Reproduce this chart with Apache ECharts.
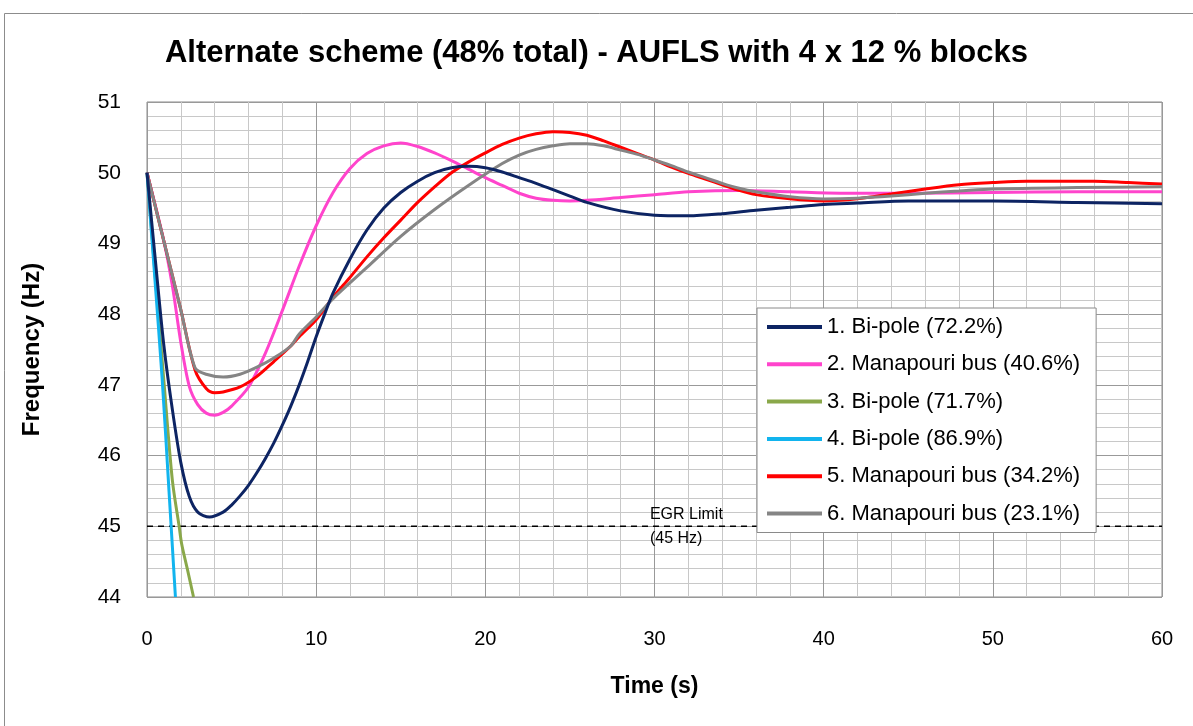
<!DOCTYPE html>
<html><head><meta charset="utf-8">
<script src="https://cdn.jsdelivr.net/npm/echarts@6/dist/echarts.min.js"></script>
<style>html,body{margin:0;padding:0;background:#fff}#c{width:1193px;height:726px}</style>
</head><body><div id="c"></div>
<script>
const titleText = 'Alternate scheme (48% total) - AUFLS with 4 x 12 % blocks';
const seriesNames = ['1. Bi-pole (72.2%)','2. Manapouri bus (40.6%)','3. Bi-pole (71.7%)','4. Bi-pole (86.9%)','5. Manapouri bus (34.2%)','6. Manapouri bus (23.1%)'];
const xTicks = [0,10,20,30,40,50,60];
const yTicks = [44,45,46,47,48,49,50,51];
const egrLimit = 45;

const s1 = [[0,50],[0.5,48.75],[1,47.55],[1.5,46.65],[2,45.9],[2.5,45.42],[3,45.2],[3.7,45.13],[4.5,45.2],[5,45.3],[5.5,45.43],[6,45.58],[6.5,45.76],[7,45.96],[7.5,46.18],[8,46.43],[8.5,46.7],[9,47.0],[9.5,47.33],[10,47.68],[10.5,48.0],[11,48.3],[12,48.78],[13,49.19],[14,49.5],[15,49.72],[16,49.88],[17,50.0],[18,50.07],[19,50.09],[20,50.07],[21,50.01],[22,49.93],[23,49.85],[24,49.76],[25,49.67],[26,49.58],[28,49.46],[30,49.4],[32,49.39],[34,49.42],[36,49.47],[38,49.51],[40,49.55],[42,49.57],[45,49.6],[50,49.6],[55,49.58],[60,49.56]];
const s2 = [[0,50],[1,49.03],[1.5,48.4],[2,47.6],[2.5,46.98],[3,46.72],[3.5,46.6],[4,46.57],[4.5,46.61],[5,46.7],[6,46.97],[7,47.45],[8,48.05],[9,48.68],[10,49.25],[11,49.72],[12,50.06],[13,50.27],[14,50.38],[15,50.42],[16,50.37],[17,50.28],[18,50.17],[19,50.05],[20,49.93],[21,49.82],[22,49.71],[23,49.64],[24,49.61],[25,49.6],[26,49.61],[28,49.65],[30,49.69],[32,49.73],[35,49.75],[38,49.73],[41,49.71],[45,49.71],[50,49.72],[55,49.73],[60,49.73]];
const s3 = [[0,50],[0.5,48.5],[1,47.05],[1.5,45.65],[1.9,45.0],[2.05,44.75],[2.4,44.38],[2.75,44.0]];
const s4 = [[0,50],[0.45,48.55],[0.9,47.07],[1.3,45.5],[1.68,44.0]];
const s5 = [[0,50],[1,49.03],[2,48.06],[2.84,47.21],[3.5,46.95],[4,46.89],[4.5,46.9],[5.5,46.97],[6.5,47.12],[7.5,47.33],[8.5,47.55],[9,47.68],[10,47.92],[11,48.24],[12,48.52],[13,48.81],[14,49.08],[15,49.33],[16,49.58],[17,49.8],[18,50.0],[19,50.15],[20,50.28],[21,50.4],[22,50.49],[23,50.55],[24,50.58],[25,50.57],[26,50.53],[27,50.45],[28,50.36],[29,50.27],[30,50.18],[31,50.08],[32,49.99],[33,49.91],[34,49.83],[35,49.75],[36,49.69],[38,49.63],[40,49.6],[42,49.63],[44,49.7],[46,49.77],[48,49.83],[50,49.86],[52,49.88],[54,49.88],[56,49.88],[58,49.86],[60,49.84]];
const s6 = [[0,50],[1,49.03],[2,48.06],[2.84,47.24],[3.5,47.15],[4.5,47.11],[5.5,47.15],[6.5,47.25],[7.5,47.38],[8.5,47.55],[9,47.72],[10,47.96],[11,48.22],[13,48.66],[15,49.1],[17,49.48],[19,49.82],[21,50.13],[22,50.25],[23,50.33],[24,50.38],[25,50.41],[26,50.41],[27,50.38],[28,50.32],[29,50.26],[30,50.18],[31,50.1],[32,50.01],[33,49.93],[34,49.85],[35,49.78],[36,49.73],[38,49.66],[40,49.63],[42,49.64],[44,49.67],[46,49.71],[48,49.74],[50,49.77],[55,49.79],[60,49.8]];
const egrLine = [[0,45],[60,45]];

const colors = ['#0d2463','#ff44cc','#8aa84a','#12b4ee','#ff0000','#858585'];
const dataSets = [s1,s2,s3,s4,s5,s6];

const chart = echarts.init(document.getElementById('c'));
const font = 'Liberation Sans, Arial, sans-serif';
const series = dataSets.map((d,i)=>({
  name: seriesNames[i], type:'line', data:d, smooth:0.3, symbol:'none',
  lineStyle:{color:colors[i], width:3}, itemStyle:{color:colors[i]}, z: 3+ (i===0?1:0), clip:true
}));
series.push({
  name:'EGR', type:'line', data:egrLine, symbol:'none', silent:true,
  lineStyle:{color:'#000', width:1.5, type:[6,5]}, z:2,
  markPoint:{symbol:'circle', symbolSize:1, itemStyle:{color:'rgba(0,0,0,0)'}, silent:true,
    data:[{coord:[29.7, egrLimit]}],
    label:{show:true, position:'right', distance:0, formatter:'EGR Limit\n(45 Hz)', color:'#000', fontSize:16, fontFamily:font, lineHeight:24, align:'left'}}
});
chart.setOption({
  animation:false,
  backgroundColor:'#fff',
  graphic:[{type:'rect', shape:{x:4.5,y:13.5,width:1200,height:730}, style:{fill:'none', stroke:'#8c8c8c', lineWidth:1}, z:-1}],
  title:{text:titleText, left:'center', top:33, textStyle:{fontFamily:font, fontWeight:'bold', fontSize:31, color:'#000'}},
  grid:{left:147, top:102, width:1015, height:495, show:true, borderColor:'#8a8a8a', borderWidth:1, backgroundColor:'#fff'},
  legend:{data:seriesNames, orient:'vertical', left:757, top:308, backgroundColor:'#fff', borderColor:'#8a8a8a', borderWidth:1,
    padding:[8,16,8,10], itemGap:15.3, itemWidth:55, itemHeight:4, icon:'rect',
    textStyle:{fontFamily:font, fontSize:22, color:'#000'}},
  xAxis:{type:'value', min:0, max:60, interval:10, name:'Time (s)', nameLocation:'middle', nameGap:78,
    nameTextStyle:{fontFamily:font, fontWeight:'bold', fontSize:23, color:'#000'},
    axisLine:{show:false}, axisTick:{show:false},
    axisLabel:{fontFamily:font, fontSize:20, color:'#000', margin:32, formatter:v=>xTicks.includes(v)?String(v):''},
    splitLine:{show:true, lineStyle:{color:'#999', width:1}},
    minorTick:{show:false, splitNumber:5}, minorSplitLine:{show:true, lineStyle:{color:'#c8c8c8', width:1}}},
  yAxis:{type:'value', min:44, max:51, interval:1, name:'Frequency (Hz)', nameLocation:'middle', nameGap:103, nameRotate:90,
    nameTextStyle:{fontFamily:font, fontWeight:'bold', fontSize:24, color:'#000'},
    axisLine:{show:false}, axisTick:{show:false},
    axisLabel:{fontFamily:font, fontSize:21, color:'#000', margin:26, formatter:v=>yTicks.includes(v)?String(v):''},
    splitLine:{show:true, lineStyle:{color:'#999', width:1}},
    minorTick:{show:false, splitNumber:5}, minorSplitLine:{show:true, lineStyle:{color:'#c8c8c8', width:1}}},
  series:series
});
</script></body></html>
